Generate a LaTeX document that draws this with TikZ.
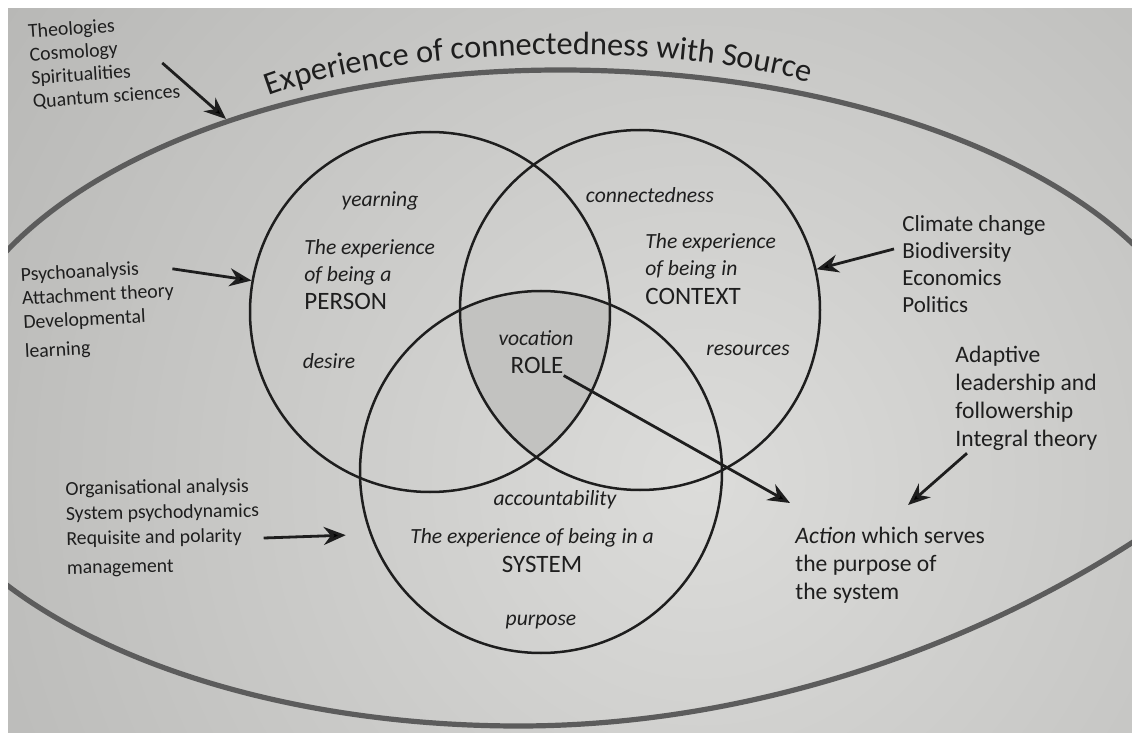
\documentclass[tikz,border=0pt]{standalone}
\usepackage{fontspec}
\setmainfont{Carlito}
\usepackage{xcolor}
\usetikzlibrary{arrows.meta, positioning, decorations.text}

\definecolor{ink}{RGB}{30,30,30}
\definecolor{sourceline}{RGB}{92,92,92}
\definecolor{pagelit}{RGB}{220,220,218}
\definecolor{pagedim}{RGB}{160,160,158}
\definecolor{roleshade}{RGB}{194,194,192}

\begin{document}
\begin{tikzpicture}[
        x=0.5pt, y=-0.5pt,
        >=Stealth,
        every node/.style={text=ink},
        ring/.style={
            circle,
            draw=ink,
            line width=1.25pt,
            minimum size=180pt,
            inner sep=0pt
        },
        lbl/.style={
            align=left,
            inner sep=1pt,
            anchor=north west
        },
        word/.style={
            inner sep=1pt,
            font=\fontsize{10.8}{12}\selectfont\itshape
        },
        caps/.style={
            inner sep=1pt,
            anchor=base west,
            font=\fontsize{12.5}{14}\selectfont
        },
        feed/.style={
            -{Stealth[length=11pt,width=9pt]},
            draw=ink,
            line width=1.4pt
        }
    ]

    \useasboundingbox (0,0) rectangle (1132,733);
    \fill[white] (0,0) rectangle (1132,733);

    % page and the loop of the Source
    \begin{scope}
        \clip (8,9) rectangle (1132,733);
        \shade[inner color=pagelit, outer color=pagedim] (700,480) circle (1400);
        \draw[sourceline, line width=2.6pt]
            (-60,400) arc[start angle=180, end angle=270, x radius=620, y radius=330]
                      arc[start angle=270, end angle=360, x radius=650, y radius=330];
        \draw[sourceline, line width=2.6pt]
            (1180,510) .. controls (1000,640) and (760,726) .. (519,726)
                       arc[start angle=90, end angle=180, x radius=622, y radius=326];
    \end{scope}
    \coordinate (src-tl) at (226,119);

    \path[decorate, decoration={text along path, text align=center, text color=ink,
            text={|\fontsize{16.2}{18}\selectfont|Experience of connectedness with Source}}]
        (258,100) .. controls (400,42) and (690,42) .. (820,86);

    % the three circles
    \coordinate (cP) at (430,312);
    \coordinate (cC) at (640,310);
    \coordinate (cS) at (541,472);

    \begin{scope}
        \clip (cP) circle[radius=180];
        \clip (cC) circle[radius=180];
        \fill[roleshade] (cS) circle[radius=181];
    \end{scope}

    \node[ring] (person) at (cP) {};
    \node[ring] (context) at (cC) {};
    \node[ring, minimum size=181pt] (system) at (cS) {};

    % inside the circles
    \node[word] (yearning) at (380,201) {yearning};
    \node[lbl, font=\fontsize{10.8}{13.5}\selectfont\itshape] (personTxt) at (302,237)
        {The experience\\of being a};
    \node[caps] (personName) at (302,310) {PERSON};
    \node[word] (desire) at (329,361) {desire};

    \node[word] (connected) at (650,195) {connectedness};
    \node[lbl, font=\fontsize{10.8}{13.8}\selectfont\itshape] (contextTxt) at (643,231)
        {The experience\\of being in};
    \node[caps] (contextName) at (643,305) {CONTEXT};
    \node[word] (resources) at (748,350) {resources};

    \node[word] (vocation) at (536,338) {vocation};
    \node[caps, anchor=base] (role) at (537,373) {ROLE};

    \node[word] (account) at (555,500) {accountability};
    \node[word, anchor=base] (systemTxt) at (532,543) {The experience of being in a};
    \node[caps, anchor=base] (systemName) at (542,572) {SYSTEM};
    \node[word] (purpose) at (541,622) {purpose};

    % fields feeding in
    \node[lbl, rotate=4, font=\fontsize{9.9}{11.7}\selectfont] (theo) at (25,22)
        {Theologies\\Cosmology\\Spiritualities\\Quantum sciences};
    \node[lbl, rotate=3, font=\fontsize{9.9}{12}\selectfont] (psycho) at (18,265)
        {Psychoanalysis\\Attachment theory\\Developmental\\[2.5pt]learning};
    \node[lbl, rotate=1, font=\fontsize{9.9}{12.5}\selectfont] (org) at (63,479)
        {Organisational analysis\\System psychodynamics\\Requisite and polarity\\[2pt]management};
    \node[lbl, font=\fontsize{11.5}{13.5}\selectfont] (climate) at (900,213)
        {Climate change\\Biodiversity\\Economics\\Politics};
    \node[lbl, font=\fontsize{11.8}{14}\selectfont] (adaptive) at (953,344)
        {Adaptive\\leadership and\\followership\\Integral theory};
    \node[lbl, font=\fontsize{11.8}{14}\selectfont] (action) at (793,525)
        {\textit{Action} which serves\\the purpose of\\the system};

    \draw[feed] ([xshift=-9pt,yshift=-3pt]theo.east) -- (src-tl);
    \draw[feed] ([xshift=-1pt,yshift=-6pt]psycho.north east) -- (person.170);
    \draw[feed, shorten >=12pt] ([xshift=1pt,yshift=-6pt]org.east) -- (system.200);
    \draw[feed] ([xshift=-3pt,yshift=7.5pt]climate.west) -- (context.13);
    \draw[feed] ([xshift=7pt]adaptive.south west) -- ([xshift=9pt,yshift=10pt]action.north);
    \draw[feed] ([xshift=-1pt]role.south east) -- ([xshift=-1.5pt,yshift=11pt]action.north west);

\end{tikzpicture}
\end{document}
